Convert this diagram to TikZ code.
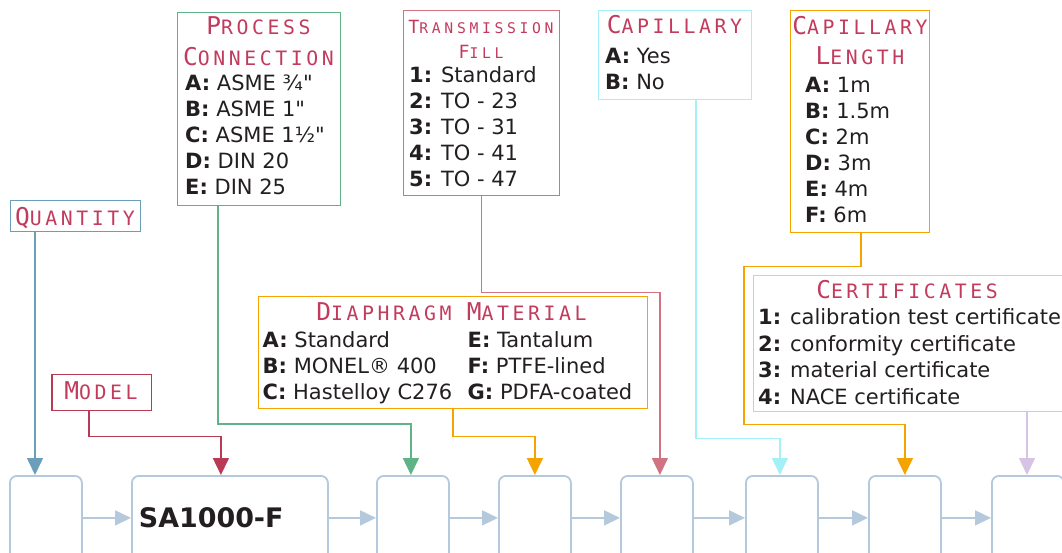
\documentclass[tikz,border=0pt]{standalone}
\usepackage{fontspec}
\setmainfont{DejaVu Sans}[Ligatures=TeXOff]
\newfontfamily\headfont[LetterSpace=18]{DejaVu Sans Mono}
\newfontfamily\headfontsm[LetterSpace=25]{DejaVu Sans Mono}
\usetikzlibrary{arrows.meta}

\definecolor{headred}{HTML}{C23B5D}
\definecolor{ink}{HTML}{231F20}
\definecolor{qtyblue}{HTML}{6B9FB9}
\definecolor{modelred}{HTML}{B83A55}
\definecolor{conngreen}{HTML}{5FB386}
\definecolor{matorange}{HTML}{F5A300}
\definecolor{fillpink}{HTML}{D07484}
\definecolor{capcyan}{HTML}{A3F0F7}
\definecolor{certlilac}{HTML}{D7C3E3}
\definecolor{slotblue}{HTML}{B4C9DC}

% fake small caps for the titles
\newcommand{\hdcaps}[2]{{\headfont{\fontsize{24.5}{26}\selectfont #1}{\fontsize{19.8}{26}\selectfont #2}}}
\newcommand{\hdcapssm}[2]{{\headfontsm{\fontsize{18.2}{20}\selectfont #1}{\fontsize{14.7}{20}\selectfont #2}}}
\newcommand{\inch}{\char34}

\tikzset{
  panel/.style={draw=#1, line width=1.4pt, inner sep=0pt, anchor=north west},
  slot/.style={draw=slotblue, line width=1.8pt, rounded corners=7pt, minimum width=72pt, minimum height=84pt, inner sep=0pt, anchor=north west},
  headline/.style={text=headred, anchor=base, inner sep=0pt},
  entry/.style={text=ink, anchor=base west, inner sep=0pt, font=\fontsize{21}{26}\selectfont},
  link/.style={draw=#1, line width=1.5pt, -{Triangle[length=17pt,width=16pt]}},
  flow/.style={draw=slotblue, line width=1.8pt, -{Triangle[length=16pt,width=15pt]}},
}

\begin{document}
\begin{tikzpicture}[x=1pt,y=-1pt]
    \useasboundingbox (0,0) rectangle (1062,552);
    \clip (0,0) rectangle (1062,552);

    % Order code row
    \foreach \n/\x in {b1/9,b3/376,b4/498,b5/620,b6/745,b7/868,b8/991} {
        \node[slot] (\n) at (\x,475) {};
    }
    \node[slot, minimum width=196pt, text width=182pt, inner xsep=7pt, align=left,
          text=ink, font=\bfseries\fontsize{26.9}{30}\selectfont] (b2) at (131,475) {SA1000-F};
    \foreach \a/\b in {b1/b2,b2/b3,b3/b4,b4/b5,b5/b6,b6/b7,b7/b8} {
        \draw[flow] (\a) -- (\b);
    }

    % Panels
    \node[panel=qtyblue, minimum width=130pt, minimum height=31.5pt] (qty) at (10,199.5) {};
    \node[panel=modelred, minimum width=99.6pt, minimum height=36pt] (model) at (51.4,373.6) {};
    \node[panel=conngreen, minimum width=163pt, minimum height=193pt] (conn) at (177,12) {};
    \node[panel=fillpink, minimum width=156pt, minimum height=185pt] (fill) at (403,10) {};
    \node[panel=capcyan, minimum width=153pt, minimum height=89pt] (cap) at (598,10) {};
    \node[panel=matorange, minimum width=139pt, minimum height=222pt] (caplen) at (790,10) {};
    \node[panel=matorange, minimum width=389pt, minimum height=111.5pt] (diaph) at (257.5,296) {};
    \node[panel=certlilac, minimum width=320pt, minimum height=135.7pt] (cert) at (753,275) {};

    % Titles
    \node[headline] (qty-h) at (75,225) {\hdcaps{Q}{UANTITY}};
    \node[headline] (model-h) at (101,399) {\hdcaps{M}{ODEL}};
    \node[headline] (conn-h1) at (258.5,34.3) {\hdcaps{P}{ROCESS}};
    \node[headline] (conn-h2) at (258.5,65) {\hdcaps{C}{ONNECTION}};
    \node[headline] (fill-h1) at (481,33.3) {\hdcapssm{T}{RANSMISSION}};
    \node[headline] (fill-h2) at (481,58.3) {\hdcapssm{F}{ILL}};
    \node[headline] (cap-h) at (674.5,33.3) {\hdcaps{C}{APILLARY}};
    \node[headline] (caplen-h1) at (860,34.3) {\hdcaps{C}{APILLARY}};
    \node[headline] (caplen-h2) at (860,64) {\hdcaps{L}{ENGTH}};
    \node[headline] (diaph-h) at (451.5,320) {\hdcaps{D}{IAPHRAGM }\hdcaps{M}{ATERIAL}};
    \node[headline] (cert-h) at (907,298.3) {\hdcaps{C}{ERTIFICATES}};

    % Options
    \foreach \lbl/\txt [count=\j from 0] in {A/ASME ¾\inch,B/ASME 1\inch,C/ASME 1½\inch,D/DIN 20,E/DIN 25} {
        \node[entry] (conn-\lbl) at (185,90.7+25.9*\j) {\textbf{\lbl:} \txt};
    }
    \foreach \lbl/\txt [count=\j from 0] in {1/Standard,2/TO - 23,3/TO - 31,4/TO - 41,5/TO - 47} {
        \node[entry] (fill-\lbl) at (409,82.3+26.1*\j) {\textbf{\lbl:} \txt};
    }
    \foreach \lbl/\txt [count=\j from 0] in {A/Yes,B/No} {
        \node[entry] (cap-\lbl) at (605,63.3+25.7*\j) {\textbf{\lbl:} \txt};
    }
    \foreach \lbl/\txt [count=\j from 0] in {A/1m,B/1.5m,C/2m,D/3m,E/4m,F/6m} {
        \node[entry] (caplen-\lbl) at (805,92.7+25.9*\j) {\textbf{\lbl:} \txt};
    }
    \foreach \lbl/\txt [count=\j from 0] in {A/Standard,B/MONEL® 400,C/Hastelloy C276} {
        \node[entry] (diaph-\lbl) at (262.5,347.7+25.7*\j) {\textbf{\lbl:} \txt};
    }
    \foreach \lbl/\txt [count=\j from 0] in {E/Tantalum,F/PTFE-lined,G/PDFA-coated} {
        \node[entry] (diaph-\lbl) at (467.5,347.7+25.7*\j) {\textbf{\lbl:} \txt};
    }
    \foreach \lbl/\txt [count=\j from 0] in {1/calibration test certificate,2/conformity certificate,3/material certificate,4/NACE certificate} {
        \node[entry] (cert-\lbl) at (758,324.5+26.5*\j) {\textbf{\lbl:} \txt};
    }

    % Connectors
    \coordinate (qty-out) at ([xshift=25pt]qty.south west);
    \coordinate (model-out) at ([xshift=37.6pt]model.south west);
    \coordinate (conn-out) at ([xshift=41pt]conn.south west);
    \coordinate (diaph-out) at ([xshift=195.5pt]diaph.south west);
    \coordinate (cap-out) at ([xshift=98pt]cap.south west);
    \coordinate (caplen-out) at ([xshift=71pt]caplen.south west);
    \coordinate (cert-out) at ([xshift=274pt]cert.south west);
    \draw[link=qtyblue] (qty-out) -- (qty-out |- b1.north);
    \draw[link=modelred] (model-out) -- ++(0,25.4) -| ([xshift=-9pt]b2.north);
    \draw[link=conngreen] (conn-out) -- ++(0,217.6) -| ([xshift=-2pt]b3.north);
    \draw[link=matorange] (diaph-out) -- ++(0,27.5) -| (b4.north);
    \draw[link=fillpink] (fill.south) -- ++(0,96) -| ([xshift=3pt]b5.north);
    \draw[link=capcyan] (cap-out) -- ++(0,338) -| ([xshift=-2pt]b6.north);
    \draw[link=matorange] (caplen-out) -- ++(0,33) -- ++(-117,0) -- ++(0,158) -| (b7.north);
    \draw[link=certlilac] (cert-out) -- (cert-out |- b8.north);
\end{tikzpicture}
\end{document}
